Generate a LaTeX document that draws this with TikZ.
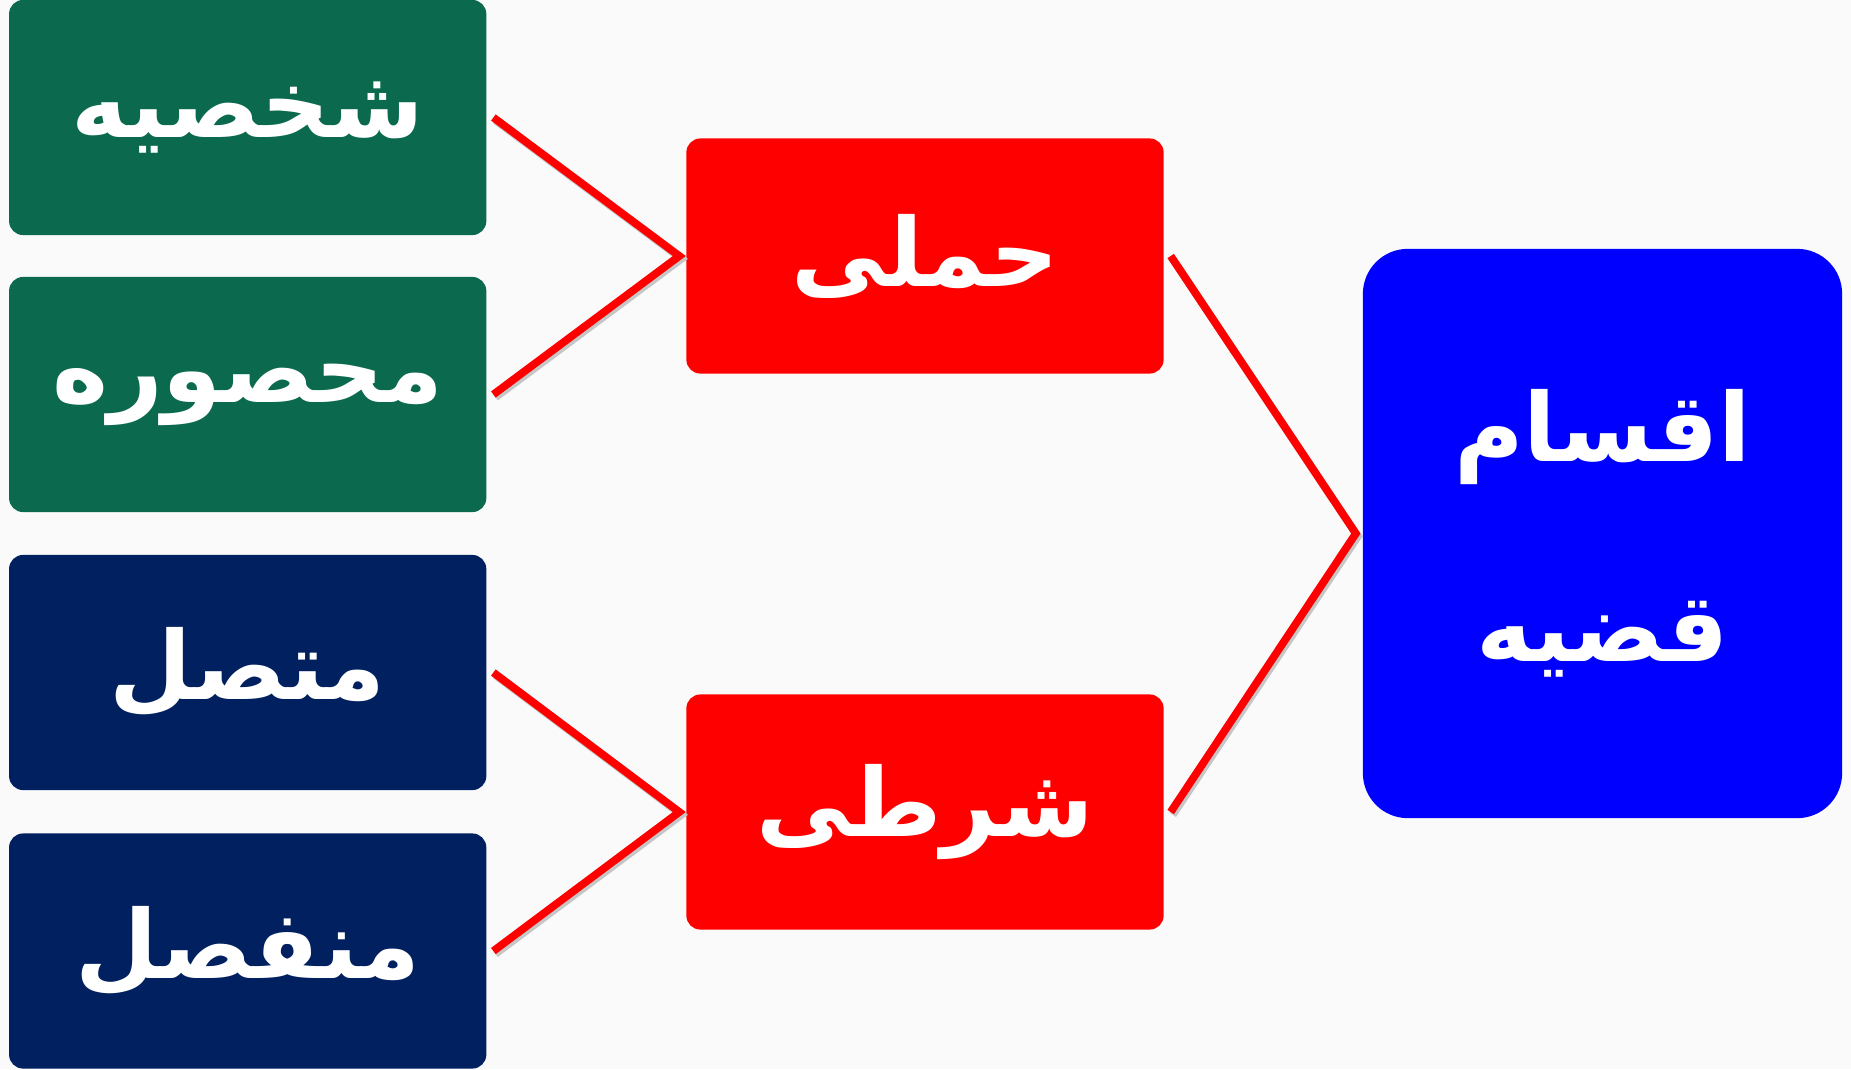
\documentclass[tikz,border=0pt]{standalone}
\usepackage{fontspec}
\TeXXeTstate=1
\newfontfamily\arabicfont[Script=Arabic]{DejaVu Sans Bold}
\definecolor{boxgreen}{HTML}{0B6A4E}
\definecolor{boxnavy}{HTML}{002060}
\definecolor{boxred}{HTML}{FF0000}
\definecolor{boxblue}{HTML}{0000FF}

\begin{document}
\begin{tikzpicture}[x=0.01cm, y=-0.01cm,
  box/.style={rounded corners=0.14cm, minimum width=4.77cm, minimum height=2.35cm,
    text=white, font=\arabicfont\fontsize{27}{57}\selectfont, inner sep=0pt, outer sep=2pt},
  link/.style={draw=boxred, line width=2.2pt,
    preaction={draw=gray!45, line width=2.2pt, transform canvas={shift={(0.6pt,-0.8pt)}}}}]

\fill[gray!4] (0,0) rectangle (1851,1069);
\useasboundingbox (0,0) rectangle (1851,1069);

\node[box, fill=boxgreen] (shakhsie) at (247.7,117.5) {\beginR شخصیه\endR};
\node[box, fill=boxgreen] (mahsure) at (247.7,394.5) {\beginR محصوره\endR};
\node[box, fill=boxnavy] (mottasel) at (247.7,672.5) {\beginR متصل\endR};
\node[box, fill=boxnavy] (monfasel) at (247.7,951) {\beginR منفصل\endR};

\node[box, fill=boxred] (hamli) at (925,256) {\beginR حملی\endR};
\node[box, fill=boxred] (sharti) at (925,812) {\beginR شرطی\endR};

\node[box, fill=boxblue, rounded corners=0.45cm, minimum width=4.79cm, minimum height=5.69cm,
  align=center] (aqsam) at (1602.5,533.5) {\beginR اقسام\endR\\\beginR قضیه\endR};

\draw[link] (shakhsie.east) -- (hamli.west) -- (mahsure.east);
\draw[link] (mottasel.east) -- (sharti.west) -- (monfasel.east);
\draw[link] (hamli.east) -- (aqsam.west) -- (sharti.east);

\end{tikzpicture}
\end{document}
